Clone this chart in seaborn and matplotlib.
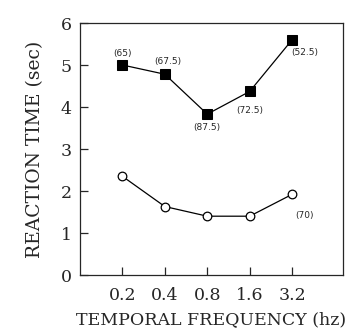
import matplotlib
matplotlib.use("Agg")
import matplotlib.pyplot as plt
import seaborn as sns
import pandas as pd

# Valores
freqs = ["0.2", "0.4", "0.8", "1.6", "3.2"]
rt_filled = [5.0, 4.78, 3.83, 4.37, 5.6]
rt_open = [2.35, 1.63, 1.40, 1.40, 1.92]
filled_labels = ["(65)", "(67.5)", "(87.5)", "(72.5)", "(52.5)"]
open_labels = [None, None, None, None, "(70)"]

sns.set_style("ticks")
plt.rcParams["font.family"] = ["DejaVu Serif"]

df = pd.DataFrame({"pos": range(len(freqs)), "filled": rt_filled, "open": rt_open})

fig = plt.figure(figsize=(3.49, 3.29), dpi=100)
ax = fig.add_axes([80 / 349, 1 - 275 / 329, 263 / 349, 252 / 329])

sns.lineplot(data=df, x="pos", y="filled", ax=ax, color="black", lw=0.9,
             marker="s", markersize=7, markerfacecolor="black",
             markeredgecolor="black")
sns.lineplot(data=df, x="pos", y="open", ax=ax, color="black", lw=0.9,
             marker="o", markersize=6.2, markerfacecolor="white",
             markeredgecolor="black", markeredgewidth=0.9)

# rótulos (n) próximos aos pontos (deslocamento em pontos)
offs = [(0, 8.5), (2, 9), (0, -9.5), (0, -14), (9, -9.5)]
for i, lab in enumerate(filled_labels):
    dx, dy = offs[i]
    ax.annotate(lab, (i, rt_filled[i]), xytext=(dx, dy), textcoords="offset points",
                ha="center", va="center", fontsize=6.5, family="DejaVu Sans")
for i, lab in enumerate(open_labels):
    if lab:
        ax.annotate(lab, (i, rt_open[i]), xytext=(9, -15), textcoords="offset points",
                    ha="center", va="center", fontsize=6.5, family="DejaVu Sans")

ax.set_xlim(-1.0, 5.2)
ax.set_ylim(0, 6)
ax.set_xticks(range(len(freqs)))
ax.set_xticklabels(freqs)
ax.set_yticks(range(0, 7))
ax.tick_params(direction="in", length=6, width=0.9, labelsize=12.5)
ax.tick_params(axis="x", pad=9)
ax.tick_params(axis="y", pad=6)
for s in ax.spines.values():
    s.set_linewidth(0.9)

ax.set_xlabel("TEMPORAL FREQUENCY (hz)", fontsize=12.5, labelpad=5)
ax.set_ylabel("REACTION TIME (sec)", fontsize=13.5, labelpad=12)

fig.savefig("out.png", dpi=100)
